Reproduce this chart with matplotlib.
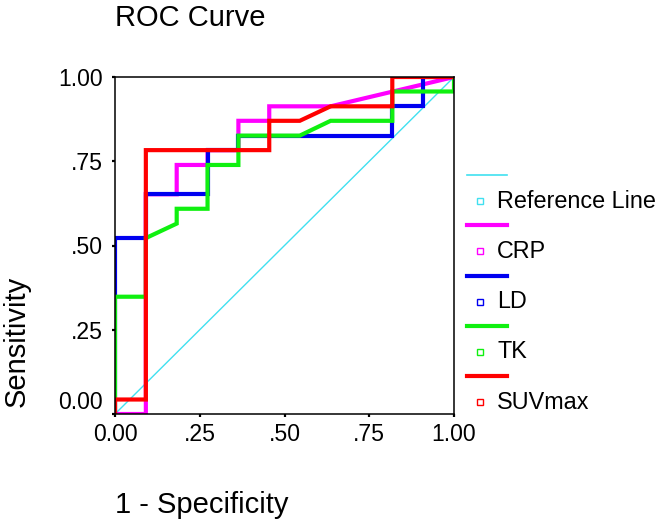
import matplotlib
matplotlib.use("Agg")
import matplotlib.pyplot as plt

plt.rcParams['font.family'] = ['Liberation Sans', 'DejaVu Sans']

# ----------------------
# ROC curve vertices (1 - specificity, sensitivity)
# ----------------------
ref_x = [0.0, 1.0]
ref_y = [0.0, 1.0]

crp_x = [0, .091, .091, .182, .182, .273, .273, .364, .364, .455, .455, .636, 1]
crp_y = [0, 0, .652, .652, .739, .739, .783, .783, .870, .870, .913, .913, 1]

ld_x = [0, 0, .091, .091, .273, .273, .364, .364, .818, .818, .909, .909, 1]
ld_y = [0, .522, .522, .652, .652, .783, .783, .826, .826, .913, .913, 1, 1]

tk_x = [0, 0, .091, .091, .182, .182, .273, .273, .364, .364, .545, .636, .818, .818, 1, 1]
tk_y = [0, .348, .348, .522, .565, .609, .609, .739, .739, .826, .826, .870, .870, .957, .957, 1]

suv_x = [0, 0, .091, .091, .455, .455, .545, .636, .818, .818, 1]
suv_y = [0, .043, .043, .783, .783, .870, .870, .913, .913, 1, 1]

series_names = ["Reference Line", "CRP", "LD", "TK", "SUVmax"]
series_colors = ["#40E0F0", "#FF00FF", "#0000F0", "#10F010", "#FF0000"]
series_widths = [1.0, 3.0, 3.0, 3.0, 3.0]
series_data = [(ref_x, ref_y), (crp_x, crp_y), (ld_x, ld_y), (tk_x, tk_y), (suv_x, suv_y)]

tick_vals = [0, .25, .5, .75, 1]
tick_labels = ["0.00", ".25", ".50", ".75", "1.00"]

# ----------------------
# Figure
# ----------------------
fig = plt.figure(figsize=(6.6, 5.26), dpi=100)
ax = fig.add_axes([115 / 660, 1 - 414 / 526, 339 / 660, 337 / 526])

for (x, y), c, lw in zip(series_data, series_colors, series_widths):
    ax.plot(x, y, color=c, lw=lw, solid_joinstyle="miter")

ax.set_xlim(0, 1)
ax.set_ylim(0, 1)
ax.set_xticks(tick_vals)
ax.set_xticklabels(tick_labels)
ax.set_yticks(tick_vals)
ax.set_yticklabels(tick_labels)
ax.get_yticklabels()[0].set_va("bottom")

for sp in ax.spines.values():
    sp.set_linewidth(1.1)
ax.tick_params(axis="both", direction="out", length=2.2, width=1.6, labelsize=16.6)
ax.tick_params(axis="x", pad=4.5)
ax.tick_params(axis="y", pad=6.5)

ax.set_title("ROC Curve", loc="left", fontsize=21, pad=36.5)
ax.set_xlabel("1 - Specificity", fontsize=21, loc="left")
ax.xaxis.set_label_coords(0, -0.228)
ax.set_ylabel("Sensitivity", fontsize=21, loc="bottom")
ax.yaxis.set_label_coords(-0.25, 0.02)

# SPSS style legend: line sample on one row, small square + name below it
leg = fig.add_axes([0, 0, 1, 1])
leg.set_xlim(0, 660)
leg.set_ylim(526, 0)
leg.axis("off")
for i, (name, c) in enumerate(zip(series_names, series_colors)):
    row = 175 + 50.3 * i
    leg.plot([467, 507], [row, row], color=c, lw=3.0 if i else 1.2)
    leg.plot([480], [row + 26], ls="none", marker="s", ms=4.5, mfc="white", mec=c, mew=1.0)
    leg.text(497, row + 26, name, fontsize=16.8, va="center", ha="left")

fig.savefig("out.png", dpi=100)
